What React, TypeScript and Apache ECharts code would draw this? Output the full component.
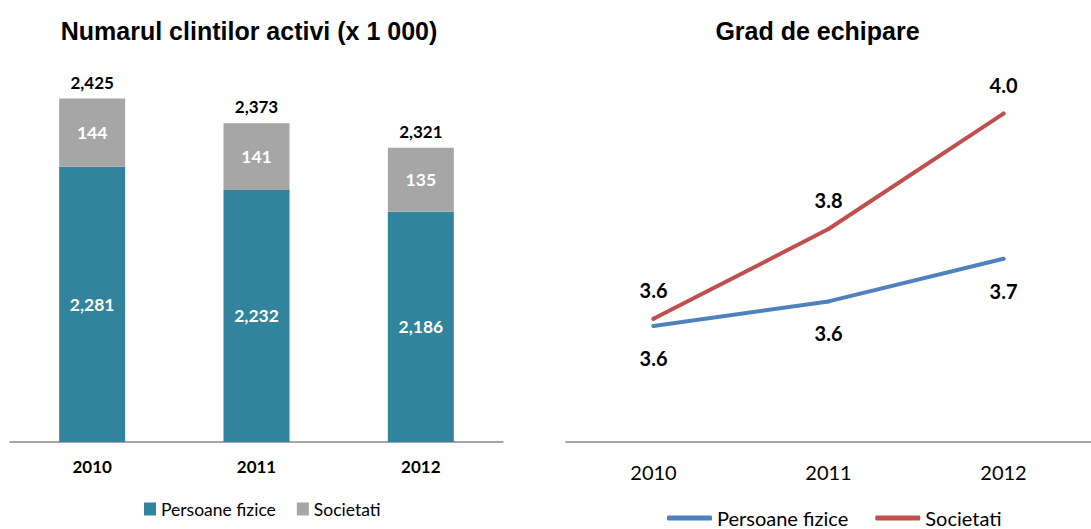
import React, { useEffect, useRef } from "react";
import * as echarts from "echarts";

const years = ["2010", "2011", "2012"];
const persoaneFizice = [2281, 2232, 2186];
const societati = [144, 141, 135];
const gradPersoane = [3.566, 3.614, 3.697];
const gradSocietati = [3.58, 3.755, 3.98];

const leftTitle = "Numarul clintilor activi (x 1 000)";
const rightTitle = "Grad de echipare";
const legendNames = ["Persoane fizice", "Societati"];

const CAL = "Lato, 'Open Sans', sans-serif";
const ARIAL = "'Liberation Sans', Arial, sans-serif";
const fmt = (v: number) => v.toLocaleString("en-US");
const AXIS = "#898989";

export default function App() {
  const leftRef = useRef<HTMLDivElement>(null);
  const rightRef = useRef<HTMLDivElement>(null);

  useEffect(() => {
    document.body.style.margin = "0";
    const left = echarts.init(leftRef.current!, undefined, { renderer: "svg" });
    const right = echarts.init(rightRef.current!, undefined, { renderer: "svg" });
    const totals = persoaneFizice.map((v, i) => v + societati[i]);

    const barLabel = {
      show: true,
      position: "inside",
      color: "#fff",
      fontWeight: "bold",
      fontSize: 17.5,
      fontFamily: CAL,
      formatter: (p: any) => fmt(p.value),
    };

    left.setOption({
      animation: false,
      graphic: [
        {
          type: "text",
          x: 249,
          y: 31,
          style: {
            text: leftTitle,
            textAlign: "center",
            textVerticalAlign: "middle",
            fontSize: 25,
            fontWeight: "bold",
            fontFamily: ARIAL,
            fill: "#000",
          },
        },
      ],
      grid: { left: 10, top: 63, width: 493, height: 379 },
      xAxis: {
        type: "category",
        data: years,
        axisLine: { lineStyle: { color: AXIS, width: 1.5 } },
        axisTick: { length: 4, lineStyle: { color: AXIS, width: 1.5 } },
        axisLabel: { margin: 16, fontFamily: CAL, fontWeight: "bold", fontSize: 17, color: "#000" },
      },
      yAxis: { type: "value", min: 1700, max: 2500, show: false },
      legend: {
        data: legendNames,
        left: 144,
        top: 500,
        padding: 0,
        icon: "rect",
        itemWidth: 12,
        itemHeight: 13,
        itemGap: 21,
        textStyle: { fontFamily: CAL, fontSize: 17.5, color: "#000" },
      },
      series: [
        {
          name: legendNames[0],
          type: "bar",
          stack: "t",
          data: persoaneFizice,
          barWidth: 66,
          itemStyle: { color: "#31849B" },
          label: barLabel,
        },
        {
          name: legendNames[1],
          type: "bar",
          stack: "t",
          data: societati,
          barWidth: 66,
          itemStyle: { color: "#A6A6A6" },
          label: barLabel,
        },
        {
          name: "Total",
          type: "bar",
          data: totals,
          barWidth: 66,
          barGap: "-100%",
          silent: true,
          itemStyle: { color: "rgba(0,0,0,0)" },
          label: {
            show: true,
            position: "top",
            distance: 8,
            color: "#000",
            fontWeight: "bold",
            fontSize: 17,
            fontFamily: CAL,
            formatter: (p: any) => fmt(p.value),
          },
        },
      ],
    });

    const lineLabel = (pos: string, dist: number) => ({
      show: true,
      position: pos,
      distance: dist,
      color: "#000",
      fontWeight: "bold",
      fontSize: 20,
      fontFamily: CAL,
      formatter: (p: any) => Number(p.value).toFixed(1),
    });

    right.setOption({
      animation: false,
      graphic: [
        {
          type: "text",
          x: 272.5,
          y: 31,
          style: {
            text: rightTitle,
            textAlign: "center",
            textVerticalAlign: "middle",
            fontSize: 25,
            fontWeight: "bold",
            fontFamily: ARIAL,
            fill: "#000",
          },
        },
      ],
      grid: { left: 21, top: 52, width: 528, height: 390 },
      xAxis: {
        type: "category",
        data: years,
        boundaryGap: true,
        axisLine: { lineStyle: { color: AXIS, width: 1.5 } },
        axisTick: { length: 6, lineStyle: { color: AXIS, width: 1.5 } },
        axisLabel: { margin: 20, fontFamily: CAL, fontSize: 20, color: "#000" },
      },
      yAxis: { type: "value", min: 3.34, max: 4.1, show: false },
      legend: {
        data: legendNames,
        left: 122,
        top: 508,
        padding: 0,
        icon: "roundRect",
        itemWidth: 45,
        itemHeight: 5,
        itemGap: 27,
        textStyle: { fontFamily: CAL, fontSize: 20, color: "#000" },
      },
      series: [
        {
          name: legendNames[0],
          type: "line",
          data: gradPersoane,
          symbol: "circle",
          symbolSize: 4,
          itemStyle: { color: "#4F81BD" },
          lineStyle: { color: "#4F81BD", width: 4, cap: "round" },
          label: lineLabel("bottom", 20),
        },
        {
          name: legendNames[1],
          type: "line",
          data: gradSocietati,
          symbol: "circle",
          symbolSize: 4,
          itemStyle: { color: "#C0504D" },
          lineStyle: { color: "#C0504D", width: 4, cap: "round" },
          label: lineLabel("top", 17),
        },
      ],
    });

    return () => {
      left.dispose();
      right.dispose();
    };
  }, []);

  return (
    <div style={{ position: "relative", width: 1091, height: 529 }}>
      <div ref={leftRef} style={{ position: "absolute", left: 0, top: 0, width: 545, height: 529 }} />
      <div
        ref={rightRef}
        style={{ position: "absolute", left: 545, top: 0, width: 546, height: 529, overflow: "hidden" }}
      />
    </div>
  );
}
